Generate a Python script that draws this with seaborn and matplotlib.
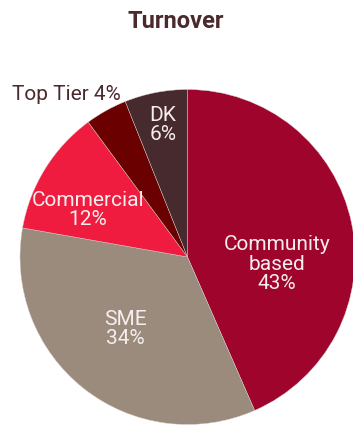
import matplotlib
matplotlib.use("Agg")
import matplotlib.pyplot as plt
import seaborn as sns

# Turnover split by customer segment (percent)
segments = ["Community\nbased", "SME", "Commercial", "Top Tier", "DK"]
shares = [43, 34, 12, 4, 6]
colors = ["#9e042c", "#9b8b7c", "#ef1c40", "#6b0000", "#472a2d"]

sns.set_theme(style="white")
plt.rcParams["font.family"] = ["Roboto", "DejaVu Sans"]

W, H = 353, 425
fig = plt.figure(figsize=(W / 100, H / 100), dpi=100)
ax = fig.add_axes([0, 0, 1, 1])

cx, cy, r = 187.5, H - 257, 167.5
wedges, _ = ax.pie(
    shares,
    colors=colors,
    startangle=90,
    counterclock=False,
    center=(cx, cy),
    radius=r,
    wedgeprops=dict(edgecolor="#d8d0cc", linewidth=0.3),
    frame=True,
)
ax.set_xlim(0, W)
ax.set_ylim(0, H)
ax.set_aspect("equal")
ax.axis("off")

# label anchor points (pixels from top-left)
label_pos = [(277, 264), (125, 329), (88, 210), (66, 94), (163, 125)]
label_color = ["#f6eeee", "#f6eeee", "#f6eeee", "#4a2a2d", "#f6eeee"]
for name, val, (lx, ly), col in zip(segments, shares, label_pos, label_color):
    if name == "Top Tier":
        txt = f"{name} {val}%"
    else:
        txt = f"{name}\n{val}%"
    ax.text(lx, H - ly, txt, ha="center", va="center", color=col,
            fontsize=15, linespacing=1.05)

fig.text(176 / W, 1 - 21 / H, "Turnover", ha="center", va="center",
         fontsize=17, fontweight="bold", color="#4a2a2d")

fig.savefig("out.png", dpi=100, facecolor="white")
